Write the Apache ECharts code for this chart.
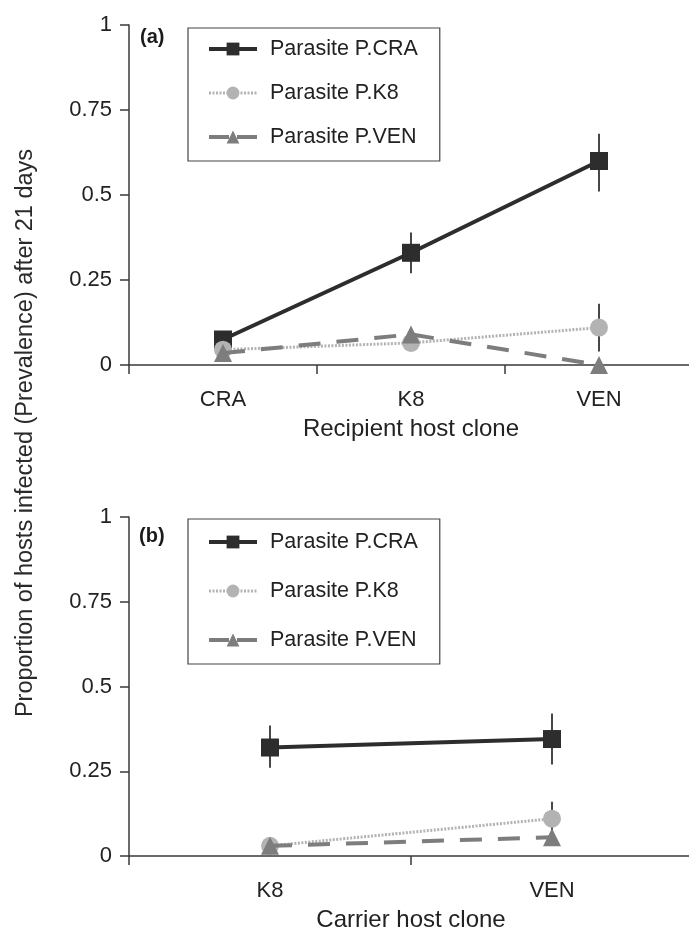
<!DOCTYPE html>
<html>
<head>
<meta charset="utf-8">
<script src="https://cdn.jsdelivr.net/npm/echarts@6/dist/echarts.min.js"></script>
<style>
  html, body { margin: 0; padding: 0; background: #fff; }
  #main { width: 689px; height: 928px; }
</style>
</head>
<body>
<div id="main"></div>
<script>
var recipientHosts = ['CRA', 'K8', 'VEN'];
var carrierHosts = ['K8', 'VEN'];
var parasites = ['Parasite P.CRA', 'Parasite P.K8', 'Parasite P.VEN'];

// panel (a): recipient host clone
var aCRA = [0.075, 0.33, 0.60];
var aCRALow = [0.055, 0.27, 0.51];
var aCRAHigh = [0.095, 0.39, 0.68];
var aK8 = [0.045, 0.065, 0.11];
var aK8Low = [0.03, 0.05, 0.04];
var aK8High = [0.06, 0.08, 0.18];
var aVEN = [0.035, 0.09, 0.0];
var aVENLow = [0.02, 0.075, 0.0];
var aVENHigh = [0.05, 0.105, 0.01];

// panel (b): carrier host clone
var bCRA = [0.32, 0.345];
var bCRALow = [0.26, 0.27];
var bCRAHigh = [0.385, 0.42];
var bK8 = [0.03, 0.11];
var bK8Low = [0.02, 0.07];
var bK8High = [0.04, 0.16];
var bVEN = [0.03, 0.055];
var bVENLow = [0.02, 0.045];
var bVENHigh = [0.04, 0.065];

var font = 'Liberation Sans, Arial, Helvetica, sans-serif';
var textCol = '#222';
var axisCol = '#3a3a3a';

var styles = [
    { color: '#2d2d2d', symbol: 'rect', size: 18, line: { width: 4, type: 'solid' }, legendLine: { width: 4, type: 'solid' } },
    { color: '#b3b3b3', symbol: 'circle', size: 18, line: { width: 3, type: [2, 1.5] }, legendLine: { width: 3, type: [2, 1.5] } },
    { color: '#7d7d7d', symbol: 'triangle', size: 18, line: { width: 4, type: [22, 16] }, legendLine: { width: 4, type: [20, 8] } }
];

function errData(lo, hi) {
    var out = [];
    for (var i = 0; i < lo.length; i++) {
        out.push([i, lo[i], hi[i]]);
    }
    return out;
}

function renderErr(params, api) {
    var p1 = api.coord([api.value(0), api.value(1)]);
    var p2 = api.coord([api.value(0), api.value(2)]);
    return {
        type: 'line',
        shape: { x1: p1[0], y1: p1[1], x2: p2[0], y2: p2[1] },
        style: { stroke: '#333', lineWidth: 1.8 }
    };
}

function lineSeries(k, values, axisIdx) {
    var s = styles[k];
    return {
        name: parasites[k],
        type: 'line',
        xAxisIndex: axisIdx,
        yAxisIndex: axisIdx,
        data: values,
        symbol: s.symbol,
        symbolSize: s.size,
        z: 3 + k,
        itemStyle: { color: s.color },
        lineStyle: { color: s.color, width: s.line.width, type: s.line.type },
        animation: false
    };
}

function errSeries(lo, hi, axisIdx) {
    return {
        type: 'custom',
        xAxisIndex: axisIdx,
        yAxisIndex: axisIdx,
        data: errData(lo, hi),
        renderItem: renderErr,
        z: 1,
        silent: true,
        animation: false
    };
}

function makeXAxis(cats, name, idx) {
    return {
        type: 'category',
        gridIndex: idx,
        data: cats,
        boundaryGap: true,
        name: name,
        nameLocation: 'middle',
        nameGap: 52,
        nameTextStyle: { fontFamily: font, fontSize: 24, color: textCol },
        axisLine: { lineStyle: { color: axisCol, width: 1.5 } },
        axisTick: { show: true, length: 9, alignWithLabel: false, lineStyle: { color: axisCol, width: 1.5 } },
        axisLabel: { fontFamily: font, fontSize: 22, color: textCol, margin: 24 },
        splitLine: { show: false }
    };
}

function makeYAxis(idx) {
    return {
        type: 'value',
        gridIndex: idx,
        min: 0,
        max: 1,
        interval: 0.25,
        axisLine: { show: true, lineStyle: { color: axisCol, width: 1.5 } },
        axisTick: { show: true, length: 9, lineStyle: { color: axisCol, width: 1.5 } },
        axisLabel: { fontFamily: font, fontSize: 22, color: textCol, margin: 17 },
        splitLine: { show: false }
    };
}

function makeLegend(top, gap, padTop, padBottom) {
    var items = parasites.map(function (name, k) {
        return {
            name: name,
            lineStyle: { width: styles[k].legendLine.width, type: styles[k].legendLine.type, color: styles[k].color }
        };
    });
    return {
        left: 188,
        top: top,
        orient: 'vertical',
        data: items,
        itemWidth: 48,
        itemHeight: 16,
        itemGap: gap,
        padding: [padTop, 22, padBottom, 19],
        borderColor: '#444',
        borderWidth: 1.2,
        backgroundColor: '#fff',
        selectedMode: false,
        textStyle: { fontFamily: font, fontSize: 21.5, color: textCol, lineHeight: 24, padding: [0, 0, 0, 8] }
    };
}

var chart = echarts.init(document.getElementById('main'), null, { renderer: 'canvas' });

var option = {
    backgroundColor: '#fff',
    animation: false,
    grid: [
        { left: 129, width: 564, top: 25, height: 340, outerBoundsMode: 'none', containLabel: false },
        { left: 129, width: 564, top: 517, height: 339, outerBoundsMode: 'none', containLabel: false }
    ],
    xAxis: [
        makeXAxis(recipientHosts, 'Recipient host clone', 0),
        makeXAxis(carrierHosts, 'Carrier host clone', 1)
    ],
    yAxis: [makeYAxis(0), makeYAxis(1)],
    legend: [
        makeLegend(28, 20, 9, 12),
        makeLegend(519, 25, 11, 12)
    ],
    graphic: [
        {
            type: 'text',
            x: 26, y: 433,
            rotation: Math.PI / 2,
            style: {
                text: 'Proportion of hosts infected (Prevalence) after 21 days',
                font: '23.5px ' + font,
                fill: '#2a2a2a',
                align: 'center',
                verticalAlign: 'middle'
            }
        },
        {
            type: 'text', x: 140, y: 37,
            style: { text: '(a)', font: 'bold 20px ' + font, fill: '#1a1a1a', verticalAlign: 'middle' }
        },
        {
            type: 'text', x: 139, y: 536,
            style: { text: '(b)', font: 'bold 20px ' + font, fill: '#1a1a1a', verticalAlign: 'middle' }
        }
    ],
    series: [
        errSeries(aCRALow, aCRAHigh, 0),
        errSeries(aK8Low, aK8High, 0),
        errSeries(aVENLow, aVENHigh, 0),
        lineSeries(0, aCRA, 0),
        lineSeries(1, aK8, 0),
        lineSeries(2, aVEN, 0),
        errSeries(bCRALow, bCRAHigh, 1),
        errSeries(bK8Low, bK8High, 1),
        errSeries(bVENLow, bVENHigh, 1),
        lineSeries(0, bCRA, 1),
        lineSeries(1, bK8, 1),
        lineSeries(2, bVEN, 1)
    ]
};

chart.setOption(option);
</script>
</body>
</html>
